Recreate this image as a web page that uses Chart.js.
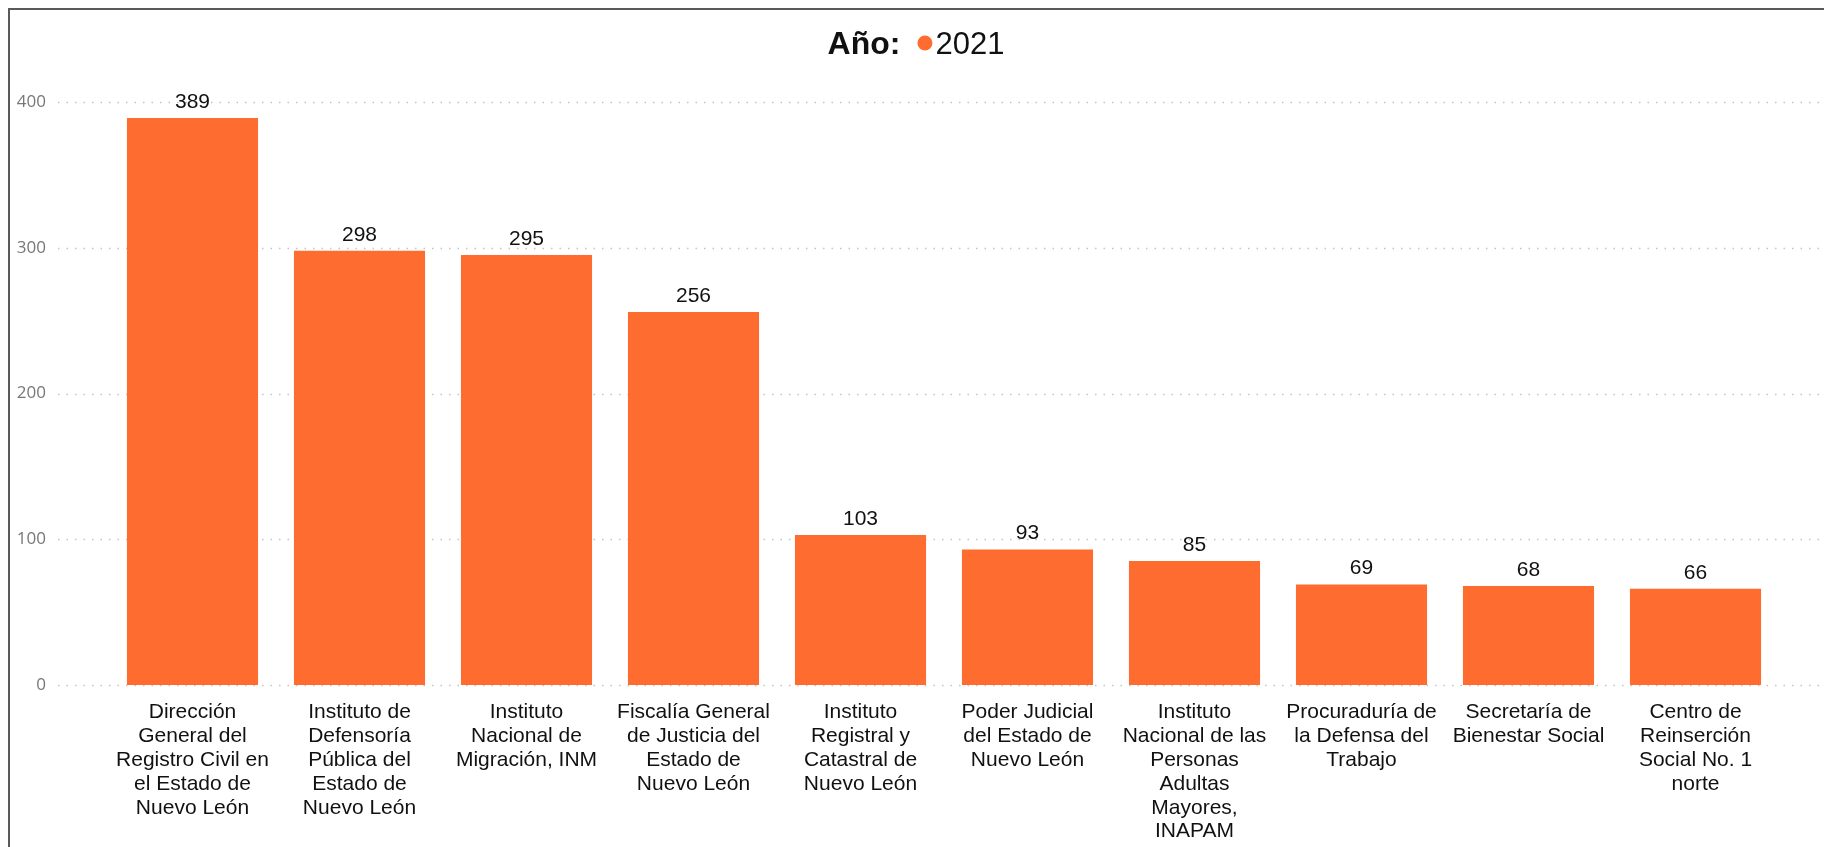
<!DOCTYPE html>
<html>
<head>
<meta charset="utf-8">
<script src="https://cdn.jsdelivr.net/npm/chart.js@4"></script>
<style>
  html, body { margin: 0; padding: 0; background: #fff; }
  #frame {
    position: absolute; left: 8px; top: 8px; right: 0; bottom: 0;
    border-left: 2px solid #5a5a5a; border-top: 2px solid #5a5a5a;
  }
  #chart { position: absolute; left: 0; top: 0; }
</style>
</head>
<body>
<div id="frame"></div>
<canvas id="chart" width="1824" height="847"></canvas>
<script>
// Dependencias (etiquetas ya partidas en renglones, como en el original)
const categories = [
  ['Dirección', 'General del', 'Registro Civil en', 'el Estado de', 'Nuevo León'],
  ['Instituto de', 'Defensoría', 'Pública del', 'Estado de', 'Nuevo León'],
  ['Instituto', 'Nacional de', 'Migración, INM'],
  ['Fiscalía General', 'de Justicia del', 'Estado de', 'Nuevo León'],
  ['Instituto', 'Registral y', 'Catastral de', 'Nuevo León'],
  ['Poder Judicial', 'del Estado de', 'Nuevo León'],
  ['Instituto', 'Nacional de las', 'Personas', 'Adultas', 'Mayores,', 'INAPAM'],
  ['Procuraduría de', 'la Defensa del', 'Trabajo'],
  ['Secretaría de', 'Bienestar Social'],
  ['Centro de', 'Reinserción', 'Social No. 1', 'norte'],
];
const values2021 = [389, 298, 295, 256, 103, 93, 85, 69, 68, 66];
const seriesLabel = '2021';
const legendTitle = 'Año:';
const yTicks = [0, 100, 200, 300, 400];

const ORANGE = '#FE6C2F';
const FONT = '"Liberation Sans", Arial, sans-serif';

// dotted horizontal gridlines that run past the plot area (Power BI style)
const dottedGrid = {
  id: 'dotted-grid',
  beforeDatasetsDraw(chart) {
    const { ctx, chartArea, scales, width } = chart;
    ctx.save();
    ctx.strokeStyle = '#c4c4c4';
    ctx.lineWidth = 1.5;
    ctx.setLineDash([1.5, 7]);
    scales.y.ticks.forEach(t => {
      const y = Math.round(scales.y.getPixelForValue(t.value)) + 0.5;
      ctx.beginPath();
      ctx.moveTo(chartArea.left - 51, y);
      ctx.lineTo(width, y);
      ctx.stroke();
    });
    ctx.restore();
  },
};

// value above every bar
const valueLabels = {
  id: 'value-labels',
  afterDatasetsDraw(chart) {
    const { ctx } = chart;
    const meta = chart.getDatasetMeta(0);
    ctx.save();
    ctx.font = '21px ' + FONT;
    ctx.fillStyle = '#111';
    ctx.textAlign = 'center';
    ctx.textBaseline = 'alphabetic';
    meta.data.forEach((bar, i) => {
      ctx.fillText(String(chart.data.datasets[0].data[i]), bar.x, bar.y - 10);
    });
    ctx.restore();
  },
};

// "Año: ● 2021" header
const headerLegend = {
  id: 'header-legend',
  afterDraw(chart) {
    const { ctx, width } = chart;
    const ds = chart.data.datasets[0];
    ctx.save();
    ctx.textBaseline = 'alphabetic';
    ctx.textAlign = 'left';
    ctx.font = 'bold 32px ' + FONT;
    const wTitle = ctx.measureText(legendTitle).width;
    ctx.font = '31px ' + FONT;
    const wLabel = ctx.measureText(ds.label).width;
    const r = 7.5, gapA = 17, gapB = 3;
    const total = wTitle + gapA + 2 * r + gapB + wLabel;
    let x = (width + 8) / 2 - total / 2;
    const base = 54;
    ctx.font = 'bold 32px ' + FONT;
    ctx.fillStyle = '#111';
    ctx.fillText(legendTitle, x, base);
    x += wTitle + gapA;
    ctx.fillStyle = ds.backgroundColor;
    ctx.beginPath();
    ctx.arc(x + r, base - 11, r, 0, Math.PI * 2);
    ctx.fill();
    x += 2 * r + gapB;
    ctx.font = '31px ' + FONT;
    ctx.fillStyle = '#111';
    ctx.fillText(ds.label, x, base);
    ctx.restore();
  },
};

new Chart(document.getElementById('chart'), {
  type: 'bar',
  data: {
    labels: categories,
    datasets: [{
      label: seriesLabel,
      data: values2021,
      backgroundColor: ORANGE,
      borderWidth: 0,
      categoryPercentage: 1,
      barPercentage: 0.785,
    }],
  },
  options: {
    responsive: false,
    animation: false,
    layout: { padding: { top: 102, left: 14, right: 45, bottom: 0 } },
    scales: {
      x: {
        grid: { display: false, drawTicks: false },
        border: { display: false },
        afterFit: (scale) => { scale.height = 162; },
        ticks: {
          color: '#111',
          font: { family: FONT, size: 21, lineHeight: 1.14 },
          padding: 15,
          maxRotation: 0,
          autoSkip: false,
        },
      },
      y: {
        min: 0,
        max: 400,
        grid: { display: false, drawTicks: false },
        border: { display: false },
        afterBuildTicks: (scale) => { scale.ticks = yTicks.map(v => ({ value: v })); },
        afterFit: (scale) => { scale.width = 95; },
        ticks: {
          color: '#777',
          font: { family: '"Open Sans", sans-serif', size: 17 },
          padding: 63,
        },
      },
    },
    plugins: {
      legend: { display: false },
      tooltip: { enabled: false },
    },
  },
  plugins: [dottedGrid, valueLabels, headerLegend],
});
</script>
</body>
</html>
